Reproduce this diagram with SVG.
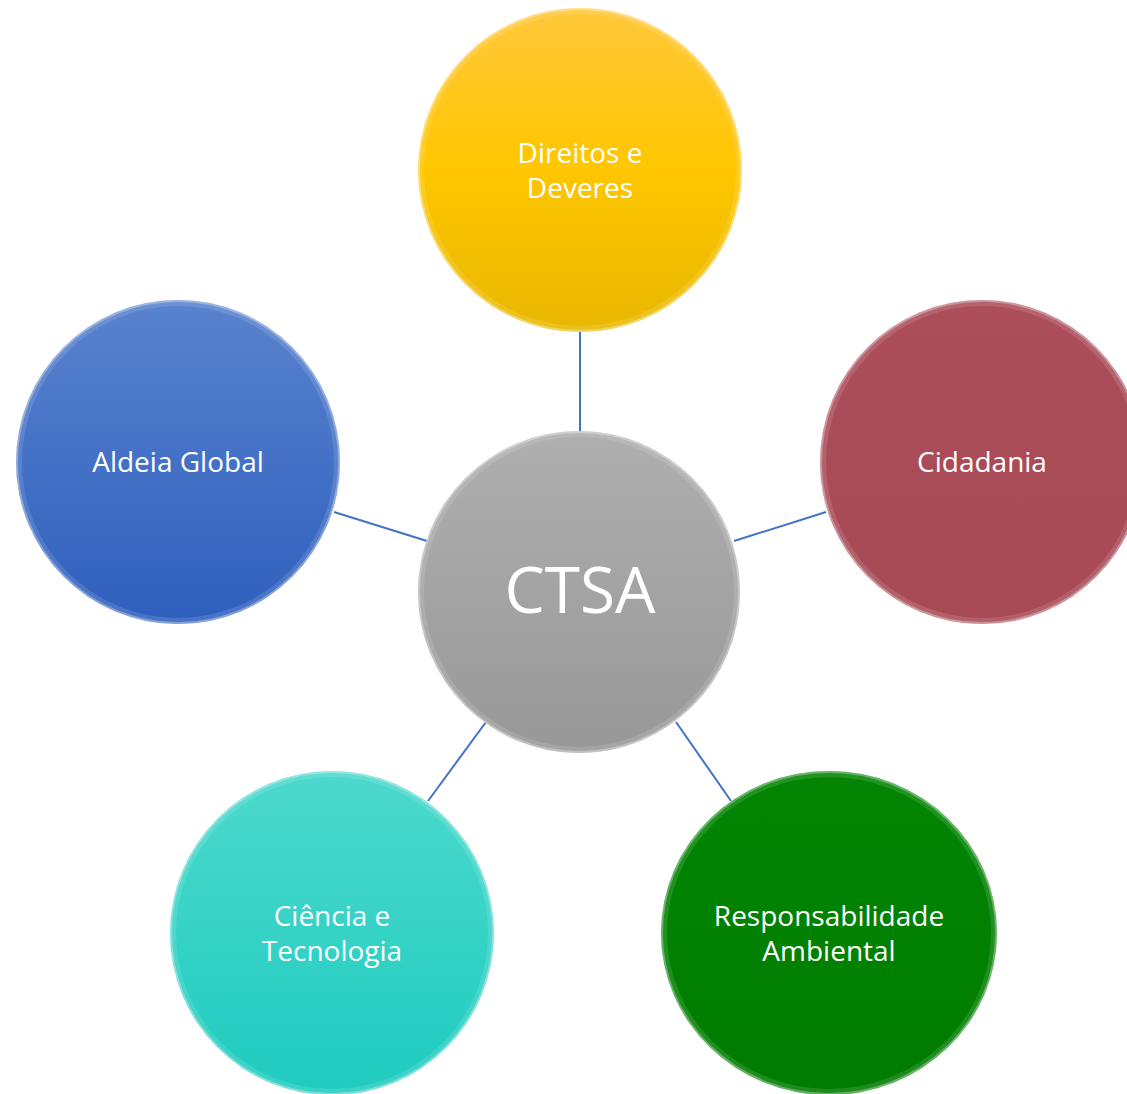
<svg xmlns="http://www.w3.org/2000/svg" width="1127" height="1094" viewBox="0 0 1127 1094">
  <defs>
    <linearGradient id="gYellow" x1="0" y1="0" x2="0" y2="1">
      <stop offset="0" stop-color="#FFC83A"/>
      <stop offset="0.5" stop-color="#FFC600"/>
      <stop offset="1" stop-color="#E8B800"/>
    </linearGradient>
    <linearGradient id="gGray" x1="0" y1="0" x2="0" y2="1">
      <stop offset="0" stop-color="#AFAFAF"/>
      <stop offset="1" stop-color="#989898"/>
    </linearGradient>
    <linearGradient id="gRed" x1="0" y1="0" x2="0" y2="1">
      <stop offset="0" stop-color="#AB4E5A"/>
      <stop offset="1" stop-color="#A84A56"/>
    </linearGradient>
    <linearGradient id="gBlue" x1="0" y1="0" x2="0" y2="1">
      <stop offset="0" stop-color="#5883CE"/>
      <stop offset="1" stop-color="#2F5FBD"/>
    </linearGradient>
    <linearGradient id="gTeal" x1="0" y1="0" x2="0" y2="1">
      <stop offset="0" stop-color="#4DD9CD"/>
      <stop offset="1" stop-color="#1FCBBF"/>
    </linearGradient>
    <linearGradient id="gGreen" x1="0" y1="0" x2="0" y2="1">
      <stop offset="0" stop-color="#038503"/>
      <stop offset="1" stop-color="#007C00"/>
    </linearGradient>
  </defs>
  <style>
    .conn { stroke: #4472C4; stroke-width: 2; fill: none; }
    .rim { fill: none; stroke: #FFFFFF; stroke-opacity: 0.4; stroke-width: 2; }
    .rim2 { fill: none; stroke: #FFFFFF; stroke-opacity: 0.12; stroke-width: 4; }
    .lbl { font-family: "Open Sans", "Noto Sans", "DejaVu Sans", sans-serif; fill: #FFFFFF; font-size: 28px; text-anchor: middle; }
    .big { font-size: 64px; }
  </style>
  <rect width="1127" height="1094" fill="#FFFFFF"/>
  <g id="connectors">
    <line class="conn" x1="580" y1="332" x2="580" y2="431"/>
    <line class="conn" x1="334" y1="512" x2="427" y2="541"/>
    <line class="conn" x1="826" y1="512" x2="734" y2="541"/>
    <line class="conn" x1="428" y1="801" x2="486" y2="722"/>
    <line class="conn" x1="731" y1="801" x2="676" y2="722"/>
  </g>
  <g id="node-direitos">
    <circle cx="580" cy="170" r="162" fill="url(#gYellow)"/>
    <circle class="rim2" cx="580" cy="170" r="158"/>
    <circle class="rim" cx="580" cy="170" r="161"/>
    <text class="lbl" x="580" y="163">Direitos e</text>
    <text class="lbl" x="580" y="198">Deveres</text>
  </g>
  <g id="node-cidadania">
    <circle cx="982" cy="462" r="162" fill="url(#gRed)"/>
    <circle class="rim2" cx="982" cy="462" r="158"/>
    <circle class="rim" cx="982" cy="462" r="161"/>
    <text class="lbl" x="982" y="472">Cidadania</text>
  </g>
  <g id="node-aldeia">
    <circle cx="178" cy="462" r="162" fill="url(#gBlue)"/>
    <circle class="rim2" cx="178" cy="462" r="158"/>
    <circle class="rim" cx="178" cy="462" r="161"/>
    <text class="lbl" x="178" y="472">Aldeia Global</text>
  </g>
  <g id="node-ciencia">
    <circle cx="332" cy="933" r="162" fill="url(#gTeal)"/>
    <circle class="rim2" cx="332" cy="933" r="158"/>
    <circle class="rim" cx="332" cy="933" r="161"/>
    <text class="lbl" x="332" y="926">Ciência e</text>
    <text class="lbl" x="332" y="961">Tecnologia</text>
  </g>
  <g id="node-responsabilidade">
    <ellipse cx="829" cy="933" rx="168" ry="162" fill="url(#gGreen)"/>
    <ellipse class="rim2" cx="829" cy="933" rx="164" ry="158"/>
    <ellipse class="rim" cx="829" cy="933" rx="167" ry="161"/>
    <text class="lbl" x="829" y="926">Responsabilidade</text>
    <text class="lbl" x="829" y="961">Ambiental</text>
  </g>
  <g id="node-ctsa">
    <circle cx="579" cy="592" r="161" fill="url(#gGray)"/>
    <circle class="rim2" cx="579" cy="592" r="157"/>
    <circle class="rim" cx="579" cy="592" r="160"/>
    <text class="lbl big" x="580" y="613">CTSA</text>
  </g>
</svg>
